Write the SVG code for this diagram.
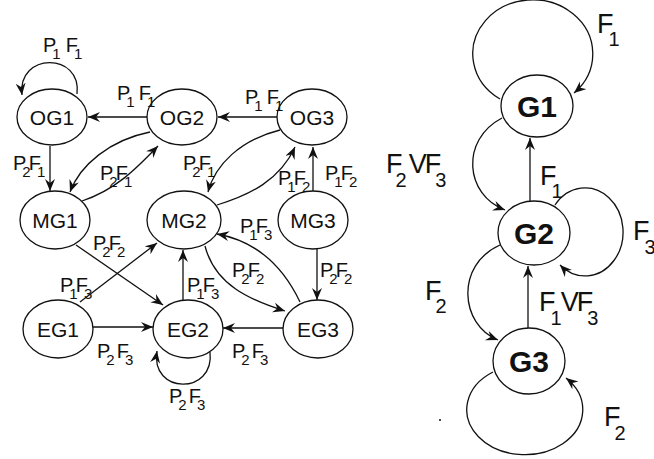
<svg xmlns="http://www.w3.org/2000/svg" width="654" height="459" viewBox="0 0 654 459">
<style>
.n ellipse{fill:#fff;stroke:#111;stroke-width:1.3}
.n text{font-family:"Liberation Sans",Arial,sans-serif;font-size:21px;text-anchor:middle;fill:#111}
.g text{font-family:"Liberation Sans",Arial,sans-serif;font-size:30px;font-weight:bold;text-anchor:middle;fill:#111}
.e path{fill:none;stroke:#111;stroke-width:1.3;marker-end:url(#ah)}
.l{font-family:"Liberation Sans",Arial,sans-serif;font-size:20px;fill:#111}
.s{font-size:15px}
.r{font-family:"Liberation Sans",Arial,sans-serif;font-size:27px;fill:#111}
.rs{font-size:20px}
</style>
<defs>
<marker id="ah" markerUnits="userSpaceOnUse" markerWidth="14" markerHeight="12" refX="12" refY="5" orient="auto">
<path d="M0,0 L12,5 L0,10 L4,5 z" fill="#111"/>
</marker>
</defs>
<g id="connectors" class="e">
<path d="M77,94 C82,52 17,52 22,95"/>
<path d="M148,117 L88,117"/>
<path d="M278,117 L218,117"/>
<path d="M50,146 L50,191"/>
<path d="M150,132 C110,140 80,165 70,192"/>
<path d="M82,201 C115,190 135,170 158,146"/>
<path d="M280,130 C240,140 215,165 208,192"/>
<path d="M217,205 C250,195 280,180 295,147"/>
<path d="M313,192 L313,147"/>
<path d="M317,249 L317,300"/>
<path d="M300,302 C280,260 250,240 217,234"/>
<path d="M205,246 C215,285 250,300 285,311"/>
<path d="M76,245 L163,305"/>
<path d="M80,302 L157,243"/>
<path d="M183,300 L183,250"/>
<path d="M93,327 L153,327"/>
<path d="M283,328 L223,328"/>
<path d="M210,352 C215,395 150,395 157,351"/>
<path d="M500,99 A60 54 0 1 1 574,93"/>
<path d="M502,118 C460,140 465,195 505,210"/>
<path d="M530,201 L530,138"/>
<path d="M555,205 A38 44 0 1 1 560,265"/>
<path d="M500,245 C455,265 460,325 498,340"/>
<path d="M528,328 L528,266"/>
<path d="M493,372 A58 45 0 1 0 566,378"/>
</g>
<g id="OG1" class="n"><ellipse cx="52" cy="117" rx="35" ry="28"/><text x="52" y="125">OG1</text></g>
<g id="OG2" class="n"><ellipse cx="182" cy="117" rx="35" ry="28"/><text x="182" y="125">OG2</text></g>
<g id="OG3" class="n"><ellipse cx="312" cy="117" rx="35" ry="28"/><text x="312" y="125">OG3</text></g>
<g id="MG1" class="n"><ellipse cx="55" cy="220" rx="35" ry="29"/><text x="55" y="228">MG1</text></g>
<g id="MG2" class="n"><ellipse cx="184" cy="220" rx="37" ry="29"/><text x="184" y="228">MG2</text></g>
<g id="MG3" class="n"><ellipse cx="313" cy="220" rx="35" ry="29"/><text x="313" y="228">MG3</text></g>
<g id="EG1" class="n"><ellipse cx="58" cy="329" rx="35" ry="29"/><text x="58" y="337">EG1</text></g>
<g id="EG2" class="n"><ellipse cx="188" cy="329" rx="35" ry="29"/><text x="188" y="337">EG2</text></g>
<g id="EG3" class="n"><ellipse cx="318" cy="329" rx="35" ry="29"/><text x="318" y="337">EG3</text></g>
<g id="G1" class="n g"><ellipse cx="537" cy="106" rx="36" ry="31"/><text x="537" y="117">G1</text></g>
<g id="G2" class="n g"><ellipse cx="534" cy="233" rx="36" ry="32"/><text x="534" y="244">G2</text></g>
<g id="G3" class="n g"><ellipse cx="529" cy="361" rx="36" ry="33"/><text x="529" y="372">G3</text></g>
<g id="labels">
<text class="l" x="43" y="52">P<tspan class="s" dx="-4" dy="7">1</tspan><tspan dx="5" dy="-7">F</tspan><tspan class="s" dx="-4" dy="7">1</tspan></text>
<text class="l" x="117" y="100">P<tspan class="s" dx="-4" dy="7">1</tspan><tspan dx="4" dy="-7">F</tspan><tspan class="s" dx="-4" dy="7">1</tspan></text>
<text class="l" x="245" y="104">P<tspan class="s" dx="-4" dy="7">1</tspan><tspan dx="4" dy="-7">F</tspan><tspan class="s" dx="-4" dy="7">1</tspan></text>
<text class="l" x="13" y="170">P<tspan class="s" dx="-4" dy="7">2</tspan><tspan dx="-2" dy="-7">F</tspan><tspan class="s" dx="-4" dy="7">1</tspan></text>
<text class="l" x="100" y="180">P<tspan class="s" dx="-4" dy="7">2</tspan><tspan dx="-2" dy="-7">F</tspan><tspan class="s" dx="-4" dy="7">1</tspan></text>
<text class="l" x="183" y="170">P<tspan class="s" dx="-4" dy="7">2</tspan><tspan dx="-2" dy="-7">F</tspan><tspan class="s" dx="-4" dy="7">1</tspan></text>
<text class="l" x="278" y="185">P<tspan class="s" dx="-4" dy="7">1</tspan><tspan dx="-2" dy="-7">F</tspan><tspan class="s" dx="-4" dy="7">2</tspan></text>
<text class="l" x="325" y="180">P<tspan class="s" dx="-4" dy="7">1</tspan><tspan dx="-2" dy="-7">F</tspan><tspan class="s" dx="-4" dy="7">2</tspan></text>
<text class="l" x="240" y="233">P<tspan class="s" dx="-4" dy="7">1</tspan><tspan dx="-2" dy="-7">F</tspan><tspan class="s" dx="-4" dy="7">3</tspan></text>
<text class="l" x="232" y="277">P<tspan class="s" dx="-4" dy="7">2</tspan><tspan dx="-2" dy="-7">F</tspan><tspan class="s" dx="-4" dy="7">2</tspan></text>
<text class="l" x="320" y="277">P<tspan class="s" dx="-4" dy="7">2</tspan><tspan dx="-2" dy="-7">F</tspan><tspan class="s" dx="-4" dy="7">2</tspan></text>
<text class="l" x="93" y="250">P<tspan class="s" dx="-4" dy="7">2</tspan><tspan dx="-2" dy="-7">F</tspan><tspan class="s" dx="-4" dy="7">2</tspan></text>
<text class="l" x="60" y="292">P<tspan class="s" dx="-4" dy="7">1</tspan><tspan dx="-2" dy="-7">F</tspan><tspan class="s" dx="-4" dy="7">3</tspan></text>
<text class="l" x="187" y="292">P<tspan class="s" dx="-4" dy="7">1</tspan><tspan dx="-2" dy="-7">F</tspan><tspan class="s" dx="-4" dy="7">3</tspan></text>
<text class="l" x="97" y="358">P<tspan class="s" dx="-4" dy="7">2</tspan><tspan dx="2" dy="-7">F</tspan><tspan class="s" dx="-4" dy="7">3</tspan></text>
<text class="l" x="232" y="358">P<tspan class="s" dx="-4" dy="7">2</tspan><tspan dx="2" dy="-7">F</tspan><tspan class="s" dx="-4" dy="7">3</tspan></text>
<text class="l" x="169" y="403">P<tspan class="s" dx="-4" dy="7">2</tspan><tspan dx="2" dy="-7">F</tspan><tspan class="s" dx="-4" dy="7">3</tspan></text>
<text class="r" x="597" y="33">F<tspan class="rs" dx="-5" dy="13">1</tspan></text>
<text class="r" x="386" y="173">F<tspan class="rs" dx="-7" dy="14">2</tspan><tspan dx="2" dy="-14">V</tspan><tspan dx="-2">F</tspan><tspan class="rs" dx="-6" dy="14">3</tspan></text>
<text class="r" x="540" y="185">F<tspan class="rs" dx="-5" dy="13">1</tspan></text>
<text class="r" x="633" y="240">F<tspan class="rs" dx="-5" dy="14">3</tspan></text>
<text class="r" x="425" y="300">F<tspan class="rs" dx="-6" dy="13">2</tspan></text>
<text class="r" x="539" y="311">F<tspan class="rs" dx="-5" dy="14">1</tspan><tspan dx="-1" dy="-14">V</tspan><tspan dx="-2">F</tspan><tspan class="rs" dx="-6" dy="14">3</tspan></text>
<text class="r" x="604" y="426">F<tspan class="rs" dx="-6" dy="14">2</tspan></text>
<circle cx="440" cy="420" r="1" fill="#111"/>
</g>
</svg>
